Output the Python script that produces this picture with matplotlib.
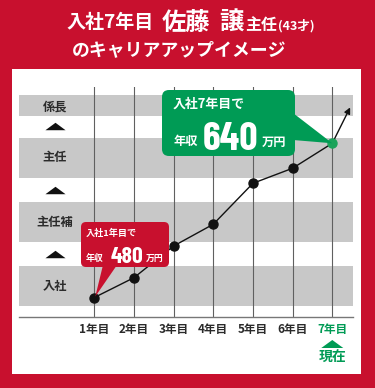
import matplotlib
matplotlib.use('Agg')
import matplotlib.pyplot as plt
from matplotlib.patches import FancyBboxPatch, Polygon, Rectangle
from matplotlib import font_manager as fm

# ---------------- data ----------------
years = [1, 2, 3, 4, 5, 6, 7]
year_labels = ['1年目', '2年目', '3年目', '4年目', '5年目', '6年目', '7年目']
career_level = [-0.18, 0.13, 0.625, 0.965, 1.605, 1.84, 2.23]
arrow_end = (7.45, 2.79)
band_names = ['入社', '主任補', '主任', '係長']
band_label_levels = [0, 1, 2, 2.8]
band_spans = [(-0.3125, 0.3125), (0.6875, 1.3125), (1.6875, 2.3125), (2.656, 2.98)]
step_levels = [0.5, 1.5, 2.5]
salary_first = 480
salary_now = 640
title_parts = ['入社7年目', '佐藤', '譲', '主任', '(43才)']
subtitle = 'のキャリアアップイメージ'

RED = '#c8102e'
GREEN = '#009b55'
GRAY_BAND = '#c8c8c8'
DARK = '#2b2b2b'
JP = 'Noto Sans CJK JP'

names = {f.name for f in fm.fontManager.ttflist}
NUM = 'Barlow Condensed' if 'Barlow Condensed' in names else 'Roboto'

W, H = 375, 388
fig = plt.figure(figsize=(W / 100, H / 100), dpi=100, facecolor=RED)

# white panel
fig.add_artist(Rectangle((12 / W, 1 - 374 / H), (361 - 12) / W, (374 - 69) / H,
                         transform=fig.transFigure, facecolor='white',
                         edgecolor='none', zorder=-1))

# ---------------- main axes ----------------
ax = fig.add_axes([19 / W, (H - 317) / H, 334 / W, 230 / H])
ax.set_xlim(-0.898, 7.522)
ax.set_ylim(-0.484, 3.109)
ax.patch.set_alpha(0)
for s in ['top', 'right', 'left']:
    ax.spines[s].set_visible(False)
ax.spines['bottom'].set_color('#777777')
ax.spines['bottom'].set_linewidth(1.0)
ax.set_yticks([])

for lo, hi in band_spans:
    ax.axhspan(lo, hi, color=GRAY_BAND, zorder=0, lw=0)
for x in years:
    ax.axvline(x, color='#606060', lw=0.8, zorder=1)

ax.set_xticks(years, year_labels)
ax.tick_params(axis='x', length=0, pad=4)
for i, lab in enumerate(ax.get_xticklabels()):
    lab.set_fontfamily(JP)
    lab.set_fontweight('bold')
    lab.set_fontsize(8.4)
    lab.set_color(GREEN if i == len(years) - 1 else DARK)

label_tr = ax.get_yaxis_transform()
lx = (55 - 19) / 334
for name, lv in zip(band_names, band_label_levels):
    ax.text(lx, lv, name, transform=label_tr, ha='center', va='center',
            fontfamily=JP, fontweight='bold', fontsize=8.8, color=DARK)
tri = [(-1, -0.37), (1, -0.37), (0, 0.37)]
ax.plot([lx] * len(step_levels), step_levels, transform=label_tr,
        linestyle='none', marker=tri, markersize=14.5, color='#111111',
        markeredgewidth=0)

# line + points
ax.plot(years, career_level, color='#111111', lw=1.0, zorder=3)
ax.plot(years[:-1], career_level[:-1], 'o', color='#111111', ms=6.5, zorder=4)
ax.plot(years[-1:], career_level[-1:], 'o', color='#1aa35a', ms=6.5, zorder=4)
ax.annotate('', xy=arrow_end, xytext=(years[-1], career_level[-1]),
            arrowprops=dict(arrowstyle='-|>', color='#111111', lw=1.0,
                            mutation_scale=9, shrinkA=0, shrinkB=0), zorder=3)

# ---------------- overlay (pixel coordinates) ----------------
ov = fig.add_axes([0, 0, 1, 1], zorder=5)
ov.set_xlim(0, W)
ov.set_ylim(H, 0)
ov.axis('off')
ov.patch.set_alpha(0)


def to_px(x, y):
    dx, dy = ax.transData.transform((x, y))
    return dx, H - dy


# title
tkw = dict(fontfamily=JP, fontweight='bold', color='white', va='center', ha='left')
ov.text(66, 23, title_parts[0], fontsize=13.7, **tkw)
ov.text(162, 23, title_parts[1], fontsize=17.5, **tkw)
ov.text(219, 23, title_parts[2], fontsize=17.5, **tkw)
ov.text(245, 25, title_parts[3], fontsize=11.5, **tkw)
ov.text(278, 26, title_parts[4], fontsize=9, **tkw)
ov.text(72, 50, subtitle, fontsize=12.9, **tkw)

# green callout
gx0, gy0, gx1, gy1 = 162, 90, 295, 156
ov.add_patch(FancyBboxPatch((gx0, gy0), gx1 - gx0, gy1 - gy0,
                            boxstyle='round,pad=0,rounding_size=7',
                            facecolor=GREEN, edgecolor='none', zorder=6))
tipx, tipy = to_px(years[-1], career_level[-1])
ov.add_patch(Polygon([(gx1 - 2, 113), (tipx, tipy), (gx1 - 2, 140)],
                     closed=True, facecolor=GREEN, edgecolor='none', zorder=6))
wkw = dict(fontfamily=JP, fontweight='bold', color='white', va='center', zorder=7)
ov.text(173, 104, '入社7年目で', fontsize=9.3, ha='left', **wkw)
ov.text(174, 142, '年収', fontsize=8.8, ha='left', **wkw)
ov.text(231, 150, str(salary_now), fontfamily=NUM, fontweight='bold',
        color='white', fontsize=29, ha='center', va='baseline', zorder=7)
ov.text(262, 142, '万円', fontsize=8.8, ha='left', **wkw)

# red callout
rx0, ry0, rx1, ry1 = 81, 222, 169, 267
ov.add_patch(FancyBboxPatch((rx0, ry0), rx1 - rx0, ry1 - ry0,
                            boxstyle='round,pad=0,rounding_size=5',
                            facecolor=RED, edgecolor='none', zorder=6))
tipx, tipy = to_px(years[0], career_level[0])
ov.add_patch(Polygon([(103, ry1 - 2), (tipx + 1, tipy - 1), (117, ry1 - 2)],
                     closed=True, facecolor=RED, edgecolor='none', zorder=6))
ov.text(86, 233, '入社1年目で', fontsize=6.6, ha='left', **wkw)
ov.text(86, 258, '年収', fontsize=6.4, ha='left', **wkw)
ov.text(127, 263, str(salary_first), fontfamily=NUM, fontweight='bold',
        color='white', fontsize=17, ha='center', va='baseline', zorder=7)
ov.text(146, 258, '万円', fontsize=6.4, ha='left', **wkw)

# "now" marker under 7年目
nx, _ = to_px(years[-1], 0)
ov.add_patch(Polygon([(nx - 11, 348), (nx + 11, 348), (nx, 340)], closed=True,
                     facecolor=GREEN, edgecolor='none'))
ov.text(nx, 358, '現在', fontfamily=JP, fontweight='bold', color=GREEN,
        fontsize=10, ha='center', va='center')

fig.savefig('out.png', dpi=100, facecolor=RED)
